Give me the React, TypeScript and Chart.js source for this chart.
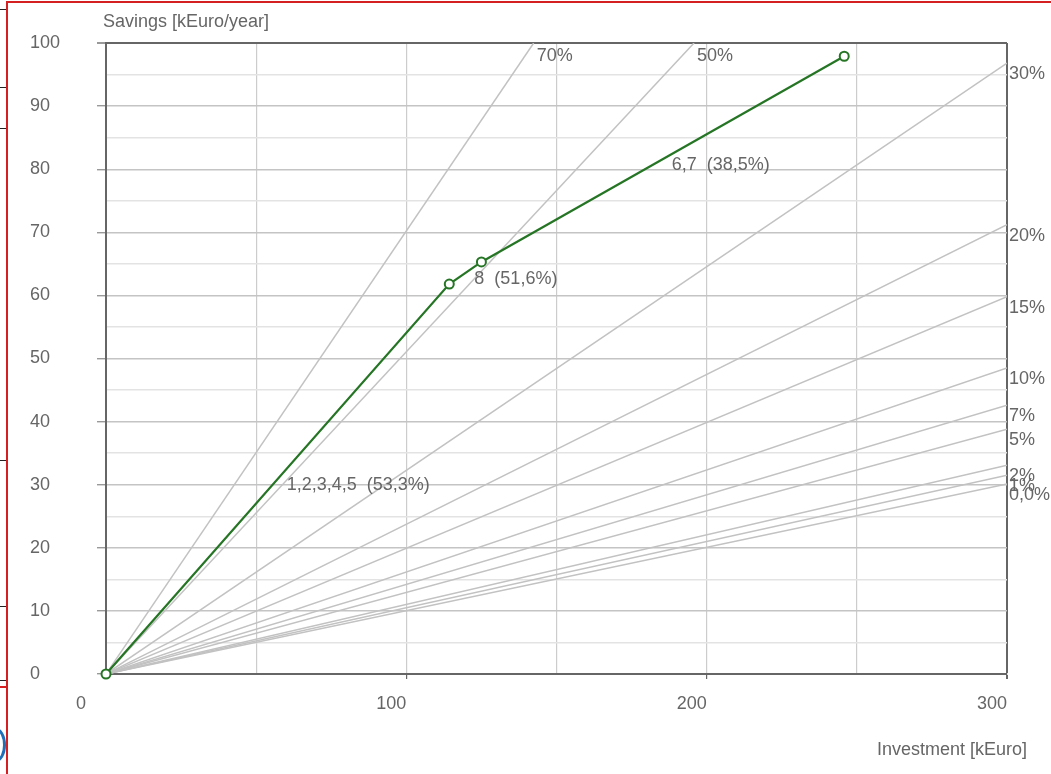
import React, { useEffect, useRef } from "react";
import { Chart, registerables } from "chart.js";

Chart.register(...registerables);

// ---- data ----
const investment = [0, 114.3, 125, 245.8];
const savings = [0, 61.8, 65.3, 97.9];
const segmentLabels = ["1,2,3,4,5  (53,3%)", "8  (51,6%)", "6,7  (38,5%)"];

const rayLabels = ["70%", "50%", "30%", "20%", "15%", "10%", "7%", "5%", "2%", "1%", "0,0%"];
const rayEndInvestment = [142.4, 195.8, 300, 300, 300, 300, 300, 300, 300, 300, 300];
const rayEndSavings = [100, 100, 96.8, 71.2, 59.8, 48.5, 42.6, 38.8, 33.1, 31.5, 30.1];

const xMin = 0, xMax = 300, xStep = 50, xLabelStep = 100;
const yMin = 0, yMax = 100, yStep = 5, yLabelStep = 10;
const xTitle = "Investment [kEuro]";
const yTitle = "Savings [kEuro/year]";

const FONT = "'Liberation Sans', Arial, sans-serif";
const TEXT = "#666666";
const GREEN = "#257525";
const RAY = "#c2c2c2";
const FRAME = "#666666";

const labelPlugin = {
  id: "chartLabels",
  afterDatasetsDraw(chart: any) {
    const ctx = chart.ctx;
    const area = chart.chartArea;
    ctx.save();
    ctx.font = `18px ${FONT}`;
    ctx.fillStyle = TEXT;
    ctx.textAlign = "left";
    ctx.textBaseline = "middle";
    rayLabels.forEach((lab, i) => {
      const pt = chart.getDatasetMeta(i + 1).data[1];
      if (rayEndSavings[i] >= yMax) ctx.fillText(lab, pt.x + 3, pt.y + 13);
      else ctx.fillText(lab, pt.x + 2, pt.y + 11);
    });
    const gm = chart.getDatasetMeta(0);
    segmentLabels.forEach((lab, i) => {
      const a = gm.data[i];
      const b = gm.data[i + 1];
      ctx.fillText(lab, (a.x + b.x) / 2 + 9, (a.y + b.y) / 2 + 6);
    });
    ctx.fillText(yTitle, area.left - 3, area.top - 21);
    ctx.textAlign = "right";
    ctx.fillText(xTitle, area.right + 20, area.bottom + 76);
    ctx.restore();
  },
};

export default function App() {
  const ref = useRef<HTMLCanvasElement | null>(null);

  useEffect(() => {
    if (!ref.current) return;
    const datasets: any[] = [
      {
        label: "measures",
        data: investment.map((x, i) => ({ x, y: savings[i] })),
        borderColor: GREEN,
        borderWidth: 2.2,
        pointRadius: 4.5,
        pointBorderWidth: 2,
        pointBackgroundColor: "#ffffff",
        pointBorderColor: GREEN,
        clip: false,
      },
      ...rayLabels.map((lab, i) => ({
        label: lab,
        data: [
          { x: 0, y: 0 },
          { x: rayEndInvestment[i], y: rayEndSavings[i] },
        ],
        borderColor: RAY,
        borderWidth: 1.5,
        pointRadius: 0,
      })),
    ];

    const chart = new Chart(ref.current, {
      type: "line",
      data: { datasets },
      options: {
        animation: false,
        responsive: false,
        layout: { padding: { left: 30, top: 43, right: 44, bottom: 0 } },
        plugins: { legend: { display: false }, tooltip: { enabled: false } },
        scales: {
          x: {
            type: "linear",
            min: xMin,
            max: xMax,
            afterFit: (s: any) => { s.height = 100; },
            border: { color: FRAME, width: 2 },
            grid: {
              color: (c: any) => (c.tick && c.tick.value === xMax ? FRAME : "#cccccc"),
              lineWidth: (c: any) => (c.tick && c.tick.value === xMax ? 2 : 1.2),
              tickLength: 5,
              tickColor: (c: any) => (c.tick && c.tick.value % xLabelStep === 0 ? FRAME : "rgba(0,0,0,0)"),
            },
            ticks: {
              stepSize: xStep,
              autoSkip: false,
              maxRotation: 0,
              align: "end",
              padding: 14,
              color: TEXT,
              font: { family: FONT, size: 18 },
              callback: (v: any) => (v % xLabelStep === 0 ? (v === 0 ? "0    " : String(v)) : ""),
            },
          },
          y: {
            type: "linear",
            min: yMin,
            max: yMax,
            afterFit: (s: any) => { s.width = 76; },
            border: { color: FRAME, width: 2 },
            grid: {
              color: (c: any) =>
                c.tick && c.tick.value === yMax
                  ? FRAME
                  : c.tick && c.tick.value % yLabelStep === 0
                  ? "#c4c4c4"
                  : "#e3e3e3",
              lineWidth: (c: any) => (c.tick && c.tick.value === yMax ? 2 : 1.4),
              tickLength: 9,
              tickColor: (c: any) => (c.tick && c.tick.value % yLabelStep === 0 ? "#999999" : "rgba(0,0,0,0)"),
            },
            ticks: {
              stepSize: yStep,
              autoSkip: false,
              crossAlign: "far",
              color: TEXT,
              font: { family: FONT, size: 18 },
              callback: (v: any) => (v % yLabelStep === 0 ? String(v) : ""),
            },
          },
        },
      } as any,
      plugins: [labelPlugin],
    });
    return () => chart.destroy();
  }, []);

  const leftMarks = [9, 87, 128, 460, 606, 680];

  return (
    <div
      style={{
        position: "fixed",
        left: 0,
        top: 0,
        width: 1051,
        height: 774,
        overflow: "hidden",
        background: "#ffffff",
      }}
    >
      <canvas ref={ref} width={1051} height={774} style={{ position: "absolute", left: 0, top: 0, width: 1051, height: 774 }} />
      {leftMarks.map((y) => (
        <div key={y} style={{ position: "absolute", left: 0, top: y, width: 6, height: 1, background: "#222" }} />
      ))}
      <div style={{ position: "absolute", left: 0, top: 686, width: 7, height: 2, background: "#d42020" }} />
      <div
        style={{
          position: "absolute",
          left: -14,
          top: 728,
          width: 14,
          height: 28,
          border: "3px solid #1f6fb8",
          borderRadius: "50%",
        }}
      />
      <div style={{ position: "absolute", left: 6, top: 1, width: 1045, height: 2, background: "#d42020" }} />
      <div style={{ position: "absolute", left: 6, top: 1, width: 2, height: 773, background: "#d42020" }} />
    </div>
  );
}
